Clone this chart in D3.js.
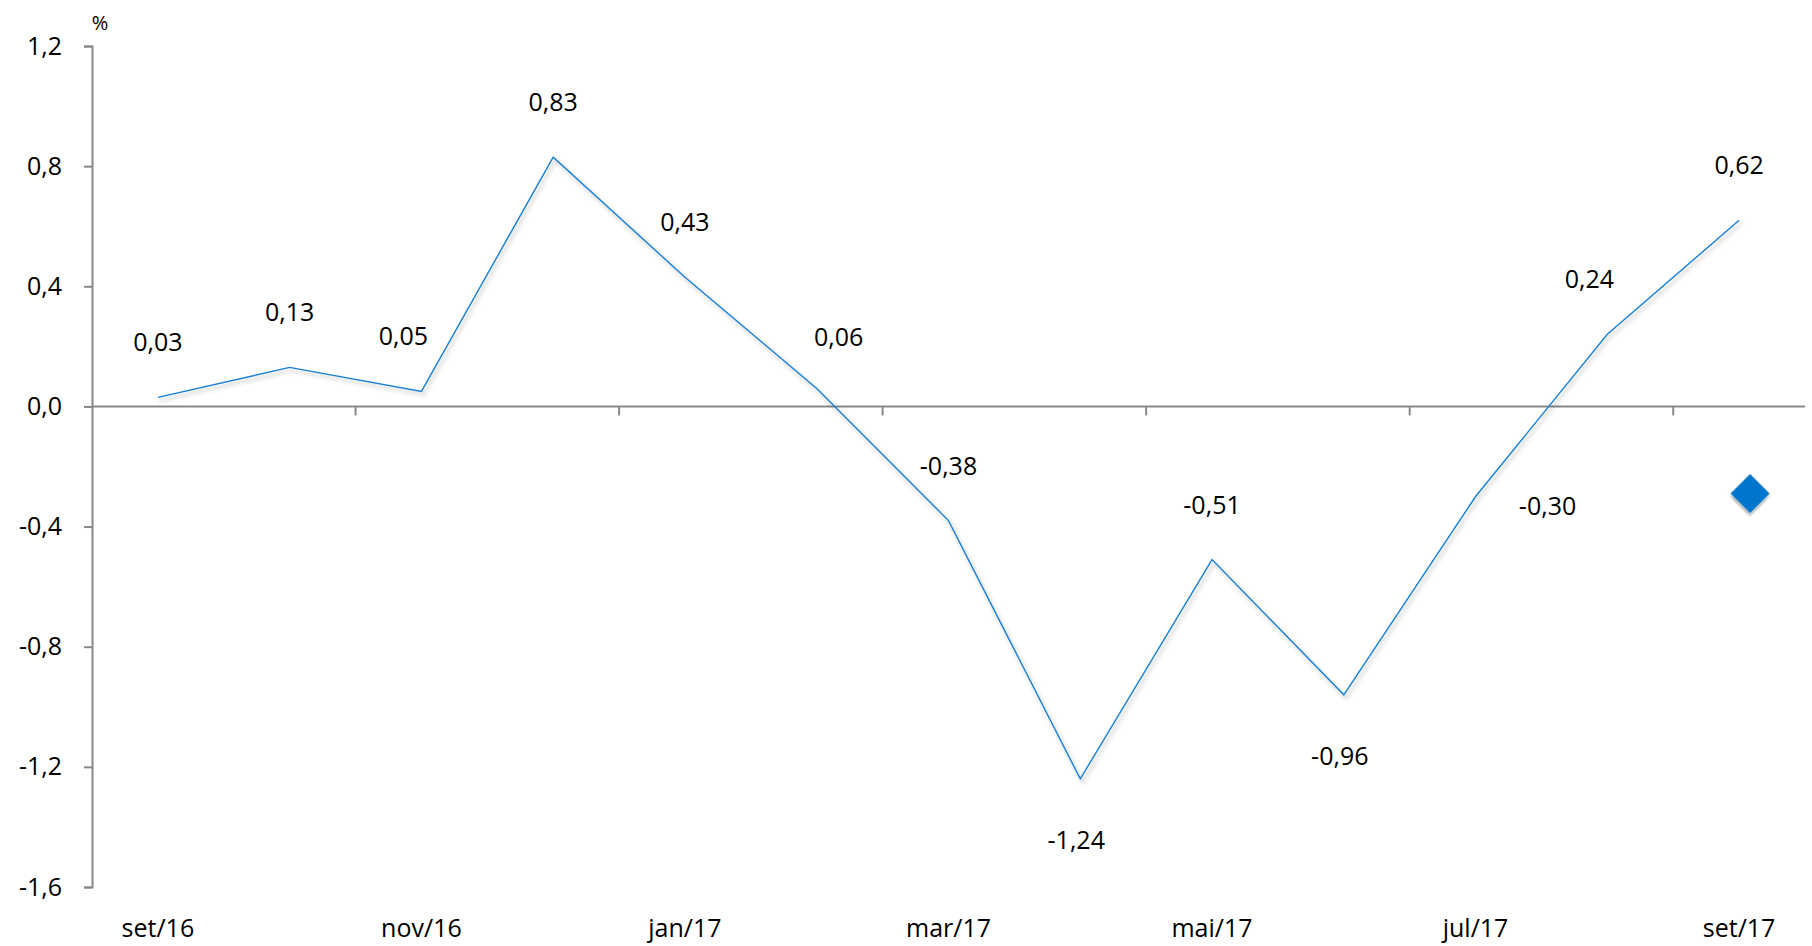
<!DOCTYPE html>
<html>
<head>
<meta charset="utf-8" />
<title>variação mensal</title>
<script src="https://cdn.jsdelivr.net/npm/d3@7"></script>
<style>
  body { margin: 0; background: #fff; }
  text { font-family: "Open Sans", "Noto Sans", sans-serif; fill: #000; }
</style>
</head>
<body>
<div id="vis"></div>
<script>
var months = ["set/16","out/16","nov/16","dez/16","jan/17","fev/17","mar/17","abr/17","mai/17","jun/17","jul/17","ago/17","set/17"];
var values = [0.03, 0.13, 0.05, 0.83, 0.43, 0.06, -0.38, -1.24, -0.51, -0.96, -0.30, 0.24, 0.62];
var labelPos = ["above","above","aboveLeft","above","above","aboveRight","above","below","above","below","right","aboveLeft","above"];
var yTicks = [1.2, 0.8, 0.4, 0.0, -0.4, -0.8, -1.2, -1.6];
var markerMonth = "set/17";
var markerValue = -0.29;

var w = 1812, h = 946;
var mLeft = 92, mRight = 1805, mTop = 46, mBottom = 887;

var fmt = function(v, d) { return v.toFixed(d).replace(".", ","); };

var svg = d3.select("#vis").append("svg").attr("width", w).attr("height", h);

var defs = svg.append("defs");
var f = defs.append("filter").attr("id", "sh").attr("x", "-10%").attr("y", "-10%").attr("width", "120%").attr("height", "120%");
f.append("feDropShadow").attr("dx", 2).attr("dy", 3).attr("stdDeviation", 2).attr("flood-color", "#000").attr("flood-opacity", 0.3);

var x = d3.scaleBand().domain(months).range([mLeft, mRight]);
var y = d3.scaleLinear().domain([-1.6, 1.2]).range([mBottom, mTop]);

// y axis
var yAxis = svg.append("g").attr("transform", "translate(" + mLeft + ",0)")
  .call(d3.axisLeft(y).tickValues(yTicks).tickSize(8).tickFormat(function(d) { return fmt(d, 1); }));
yAxis.select(".domain").attr("stroke", "#888").attr("stroke-width", 2);
yAxis.selectAll(".tick line").attr("stroke", "#888").attr("stroke-width", 2);
yAxis.selectAll(".tick text").attr("x", -30).style("font-size", "25px").attr("font-family", "'Open Sans', sans-serif");

// zero line with ticks between each pair of months
svg.append("line").attr("x1", mLeft).attr("x2", mRight).attr("y1", y(0)).attr("y2", y(0))
  .attr("stroke", "#888").attr("stroke-width", 2);
svg.selectAll(".xt").data(months.filter(function(d, i) { return i % 2 === 0 && i > 0; }))
  .enter().append("line")
  .attr("x1", function(d) { return x(d); }).attr("x2", function(d) { return x(d); })
  .attr("y1", y(0)).attr("y2", y(0) + 9)
  .attr("stroke", "#888").attr("stroke-width", 2);

// x labels
svg.selectAll(".xl").data(months.filter(function(d, i) { return i % 2 === 0; }))
  .enter().append("text")
  .attr("x", function(d) { return x(d) + x.bandwidth() / 2; })
  .attr("y", mBottom + 50)
  .attr("text-anchor", "middle").style("font-size", "25px")
  .text(function(d) { return d; });

// percent sign
svg.append("text").attr("x", 100).attr("y", 30).attr("text-anchor", "middle")
  .style("font-size", "20px").attr("font-family", "'Liberation Serif', serif").text("%");

// line
var line = d3.line()
  .x(function(d, i) { return x(months[i]) + x.bandwidth() / 2; })
  .y(function(d) { return y(d); });
svg.append("path").datum(values).attr("d", line)
  .attr("fill", "none").attr("stroke", "#1a7fd6").attr("stroke-width", 1.4)
  .attr("filter", "url(#sh)");

// data labels
var off = {
  above: [0, -46], aboveLeft: [-18, -46], aboveRight: [22, -42], below: [-4, 70], right: [72, 18]
};
svg.selectAll(".dl").data(values).enter().append("text")
  .attr("x", function(d, i) { return x(months[i]) + x.bandwidth() / 2 + off[labelPos[i]][0]; })
  .attr("y", function(d, i) { return y(d) + off[labelPos[i]][1]; })
  .attr("text-anchor", "middle").style("font-size", "25px")
  .text(function(d) { return fmt(d, 2); });

// diamond marker
svg.append("path")
  .attr("d", d3.symbol().type(d3.symbolSquare).size(760))
  .attr("transform", "translate(" + (x(markerMonth) + x.bandwidth() / 2 + 11) + "," + y(markerValue) + ") rotate(45)")
  .attr("fill", "#0074cc").attr("filter", "url(#sh)");
</script>
</body>
</html>
